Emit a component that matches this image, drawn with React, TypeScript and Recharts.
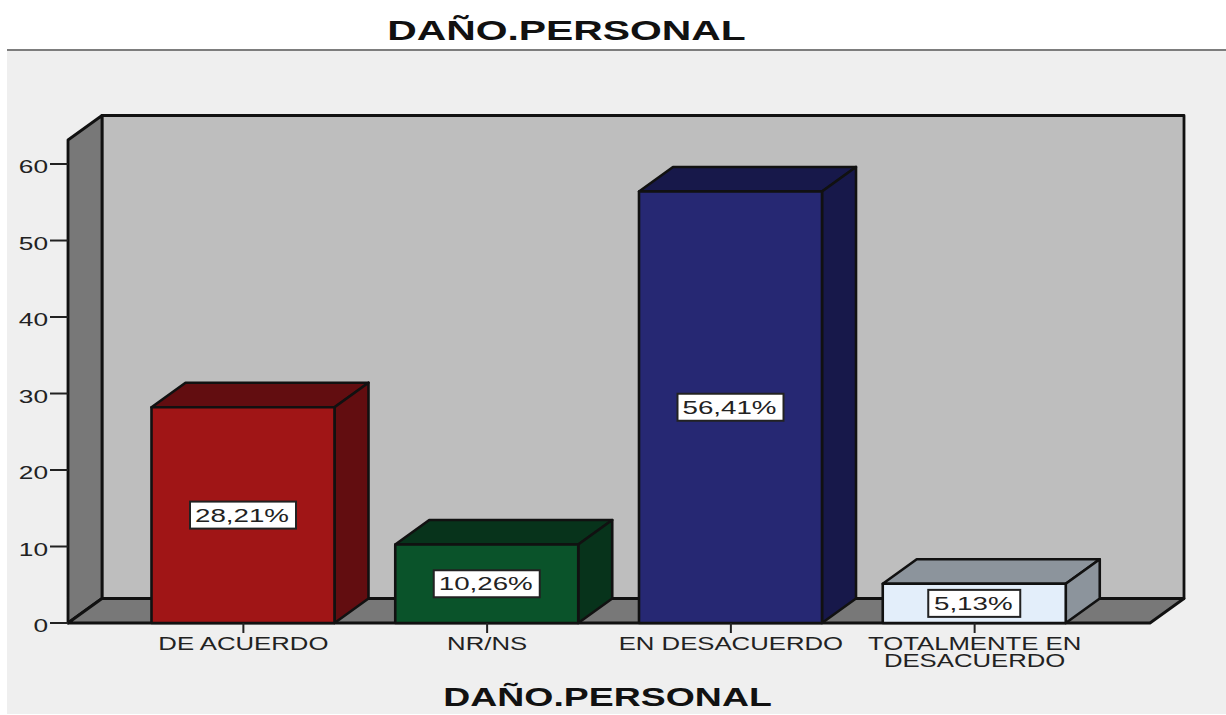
import { ComposedChart, Bar, XAxis, YAxis, Cell, LabelList, ReferenceArea } from "recharts";

const categories = ["DE ACUERDO", "NR/NS", "EN DESACUERDO", "TOTALMENTE EN|DESACUERDO"];
const percentages = [28.21, 10.26, 56.41, 5.13];
const yTicks = [0, 10, 20, 30, 40, 50, 60];
const frontColors = ["#a01516", "#0a532a", "#262873", "#e3eefa"];
const sideColors = ["#620d10", "#07331b", "#17184a", "#8c949c"];
const titleText = "DAÑO.PERSONAL";

const tableData = categories.map((name, i) => ({
  name,
  pct: percentages[i],
  front: frontColors[i],
  side: sideColors[i],
}));

const DX = 34;
const DY = 24.5;
const PAD = 53.5;
const LINE = "#111";

// the source image is stretched sideways, so text gets a horizontal scale
function WideText({ x, y, size, stretch = 1.46, anchor = "middle", bold = false, fill = "#222", children }: any) {
  return (
    <text
      transform={`translate(${x},${y}) scale(${stretch},1)`}
      textAnchor={anchor}
      fontFamily="Liberation Sans"
      fontSize={size}
      fontWeight={bold ? 700 : 400}
      fill={fill}
    >
      {children}
    </text>
  );
}

// the reference area starts after the axis padding, so walls widen back out by PAD
function Walls({ x, y, width, height }: any) {
  const left = x - PAD;
  const right = x + width + PAD;
  const bottom = y + height;
  return (
    <g stroke={LINE} strokeWidth={2.8} strokeLinejoin="round">
      <rect x={left + DX} y={y - DY} width={right - left} height={height} fill="#bebebe" />
      <polygon
        points={`${left},${y} ${left + DX},${y - DY} ${left + DX},${bottom - DY} ${left},${bottom}`}
        fill="#787878"
      />
      <polygon
        points={`${left},${bottom} ${right},${bottom} ${right + DX},${bottom - DY} ${left + DX},${bottom - DY}`}
        fill="#787878"
      />
    </g>
  );
}

function Box3D({ x, y, width, height, payload }: any) {
  const r = x + width;
  const b = y + height;
  return (
    <g stroke={LINE} strokeWidth={2.6} strokeLinejoin="round">
      <polygon points={`${x},${y} ${x + DX},${y - DY} ${r + DX},${y - DY} ${r},${y}`} fill={payload.side} />
      <polygon points={`${r},${y} ${r + DX},${y - DY} ${r + DX},${b - DY} ${r},${b}`} fill={payload.side} />
      <rect x={x} y={y} width={width} height={height} fill={payload.front} />
    </g>
  );
}

function PctLabel({ x, y, width, height, value }: any) {
  const text = `${String(value).replace(".", ",")}%`;
  const w = text.length > 5 ? 106 : 92;
  const cx = x + width / 2;
  const cy = y + height / 2;
  return (
    <g>
      <rect x={cx - w / 2} y={cy - 13.5} width={w} height={27} fill="#fff" stroke="#222" strokeWidth={2} />
      <WideText x={cx - 1} y={cy + 6.5} size={18} stretch={1.54}>
        {text}
      </WideText>
    </g>
  );
}

function CategoryTick({ x, payload }: any) {
  const lines = String(payload.value).split("|");
  return (
    <WideText x={x} y={650} size={18} stretch={1.43}>
      {lines.map((line, i) => (
        <tspan key={i} x={0} dy={i === 0 ? 0 : 17}>
          {line}
        </tspan>
      ))}
    </WideText>
  );
}

function ValueTick({ x, y, payload }: any) {
  return (
    <WideText x={x} y={y + 9} size={18} anchor="end">
      {payload.value}
    </WideText>
  );
}

export default function App() {
  return (
    <div style={{ position: "absolute", left: 0, top: 0, width: 1226, height: 715, background: "#fff", overflow: "hidden" }}>
      <div style={{ position: "absolute", left: 7, top: 49, width: 1219, height: 665, background: "#efefef", borderTop: "2px solid #7d7d7d", boxSizing: "border-box" }} />
      <div style={{ position: "absolute", left: 0, top: 0 }}>
        <ComposedChart
          width={1226}
          height={715}
          data={tableData}
          margin={{ top: 140, right: 76, bottom: 0, left: 0 }}
        >
          <XAxis
            dataKey="name"
            height={92}
            interval={0}
            padding={{ left: PAD, right: PAD }}
            tick={<CategoryTick />}
            tickSize={10}
            axisLine={{ stroke: LINE, strokeWidth: 2 }}
            tickLine={{ stroke: "#222", strokeWidth: 2 }}
          />
          <YAxis
            type="number"
            domain={[0, 63.14]}
            ticks={yTicks}
            width={68}
            tick={<ValueTick />}
            tickSize={18}
            axisLine={false}
            tickLine={{ stroke: "#222", strokeWidth: 2 }}
          />
          <ReferenceArea y1={0} y2={63.14} shape={<Walls />} />
          <Bar dataKey="pct" barSize={183} isAnimationActive={false} shape={<Box3D />}>
            {tableData.map((d, i) => (
              <Cell key={i} fill={d.front} />
            ))}
            <LabelList dataKey="pct" content={<PctLabel />} />
          </Bar>
          <WideText x={566.5} y={40} size={28} bold fill="#111">
            {titleText}
          </WideText>
          <WideText x={607.5} y={706} size={26} stretch={1.44} bold fill="#111">
            {titleText}
          </WideText>
        </ComposedChart>
      </div>
    </div>
  );
}
